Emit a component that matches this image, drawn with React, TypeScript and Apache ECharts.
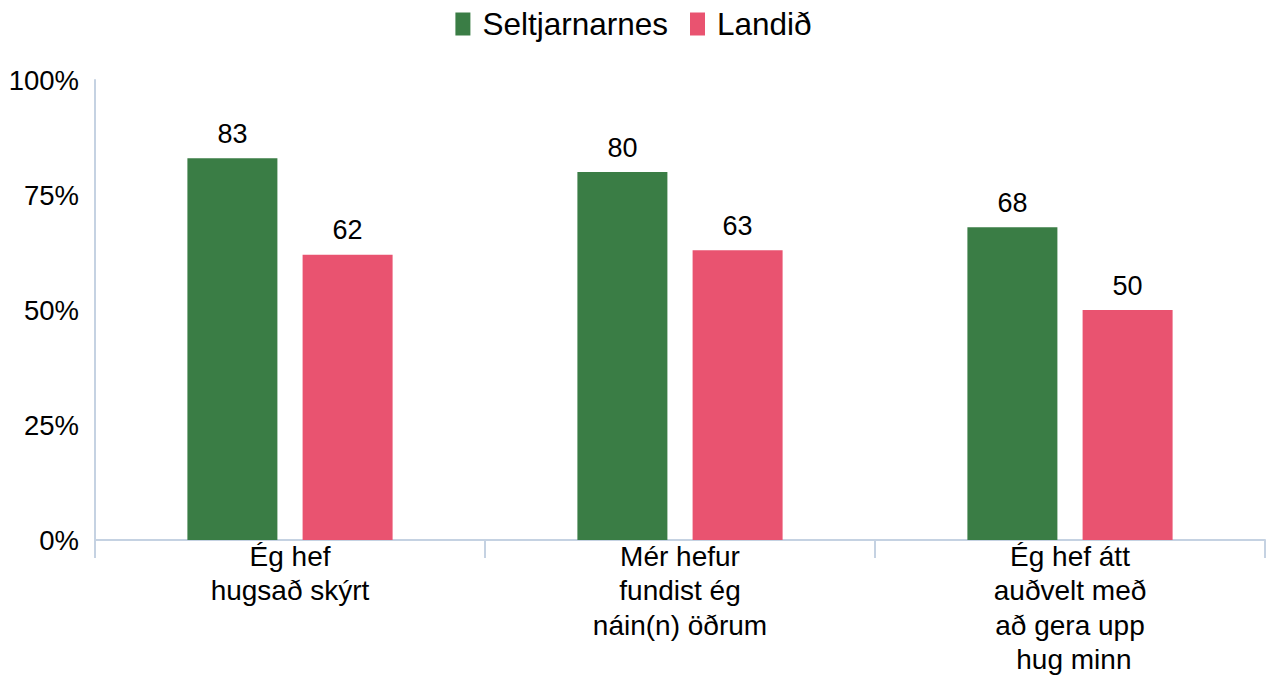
import React, { useEffect, useRef } from "react";
import * as echarts from "echarts";

const categories = [
  "Ég hef\nhugsað skýrt",
  "Mér hefur\nfundist ég\nnáin(n) öðrum",
  "Ég hef átt\nauðvelt með\nað gera upp\n hug minn",
];
const seriesNames = ["Seltjarnarnes", "Landið"];
const seltjarnarnes = [83, 80, 68];
const landid = [62, 63, 50];
const yTicks = [0, 25, 50, 75, 100];

const FONT = "'Liberation Sans', Arial, sans-serif";
const AXIS_COLOR = "#C5D2E2";

export default function App() {
  const ref = useRef<HTMLDivElement>(null);
  useEffect(() => {
    if (!ref.current) return;
    const chart = echarts.init(ref.current, undefined, { renderer: "svg" });
    chart.setOption({
      animation: false,
      textStyle: { fontFamily: FONT, color: "#000" },
      legend: {
        top: 3,
        left: "center",
        itemWidth: 15,
        itemHeight: 23,
        itemGap: 22,
        icon: "rect",
        textStyle: { fontFamily: FONT, fontSize: 31.5, color: "#000", padding: [0, 0, 0, 7] },
        data: seriesNames,
      },
      grid: { left: 95, right: 2, top: 80, bottom: 135, containLabel: false, outerBoundsMode: "none" },
      xAxis: {
        type: "category",
        data: categories,
        axisLine: { lineStyle: { color: AXIS_COLOR, width: 2 } },
        axisTick: { show: true, length: 18, lineStyle: { color: AXIS_COLOR, width: 2 } },
        axisLabel: {
          fontFamily: FONT,
          fontSize: 28,
          color: "#000",
          lineHeight: 34.5,
          margin: -1,
          interval: 0,
        },
      },
      yAxis: {
        type: "value",
        min: 0,
        max: 100,
        interval: 25,
        axisLine: { show: true, lineStyle: { color: AXIS_COLOR, width: 2 } },
        axisTick: { show: false },
        splitLine: { show: false },
        axisLabel: {
          fontFamily: FONT,
          fontSize: 27.5,
          color: "#000",
          margin: 16,
          formatter: (v: number) => (yTicks.includes(v) ? `${v}%` : ""),
        },
      },
      series: [
        {
          name: seriesNames[0],
          type: "bar",
          data: seltjarnarnes,
          barWidth: 90,
          barGap: "28%",
          itemStyle: { color: "#3A7D45" },
          label: {
            show: true,
            position: "top",
            distance: 11,
            fontFamily: FONT,
            fontSize: 27,
            color: "#000",
          },
        },
        {
          name: seriesNames[1],
          type: "bar",
          data: landid,
          barWidth: 90,
          itemStyle: { color: "#E95370" },
          label: {
            show: true,
            position: "top",
            distance: 11,
            fontFamily: FONT,
            fontSize: 27,
            color: "#000",
          },
        },
      ],
    });
    return () => chart.dispose();
  }, []);
  return <div ref={ref} style={{ width: 1267, height: 675, position: "absolute", left: 0, top: 0 }} />;
}
